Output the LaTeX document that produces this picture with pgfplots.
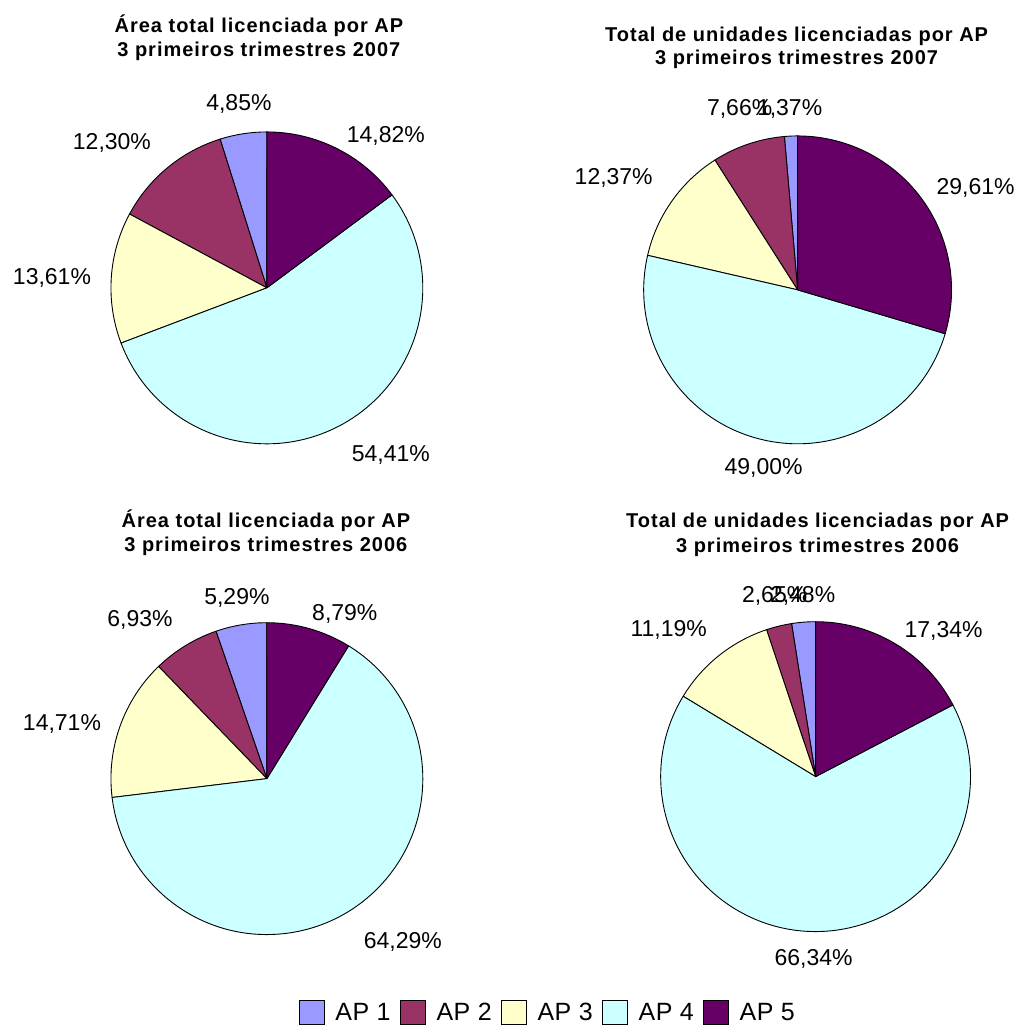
\documentclass[border=0pt]{standalone}
\usepackage{fontspec}
\setmainfont{Liberation Sans}
\newfontfamily\ttlfam{Liberation Sans}[LetterSpace=5]
\newfontfamily\legfam{Liberation Sans}[LetterSpace=2]
\usepackage{pgfplots}
\usepackage{pgfplotstable}
\pgfplotsset{compat=1.18}

\definecolor{ap1}{HTML}{9999FF}
\definecolor{ap2}{HTML}{993366}
\definecolor{ap3}{HTML}{FFFFCC}
\definecolor{ap4}{HTML}{CCFFFF}
\definecolor{ap5}{HTML}{660066}

\newcommand\lblfont{\fontsize{23}{27}\selectfont}
\newcommand\legfont{\legfam\fontsize{25}{27}\selectfont}
\newcommand\ttlfont{\ttlfam\bfseries\fontsize{20}{24}\selectfont}

% value (%), label centre x, label centre y (picture pixels, y downwards)
\pgfplotstableread{
v lx ly
4.85 239 103
12.30 112 142
13.61 52 277
54.41 391 454
14.82 386 135
}\pieA
\pgfplotstableread{
v lx ly
1.37 790 108
7.66 740 108
12.37 614 177
49.00 764 467
29.61 976 187
}\pieB
\pgfplotstableread{
v lx ly
5.29 237 597
6.93 140 619
14.71 62 723
64.29 403 941
8.79 345 613
}\pieC
\pgfplotstableread{
v lx ly
2.48 803 595
2.65 775 595
11.19 669 629
66.34 814 958
17.34 944 630
}\pieD

\pgfkeys{/pgf/number format/.cd,fixed,precision=2,fixed zerofill,use comma,assume math mode=true}

\newcommand\drawpie[4]{%
 \pgfplotsextra{%
  \pgfmathsetmacro\pcy{1027-#3}%
  \gdef\curang{90}%
  \foreach \i in {0,...,4}{%
    \pgfplotstablegetelem{\i}{v}\of{#1}\let\val\pgfplotsretval
    \pgfmathsetmacro\endang{\curang+3.6*\val}%
    \pgfmathtruncatemacro\k{\i+1}%
    \filldraw[fill=ap\k, draw=black, line width=0.9pt, line join=round]
      (axis cs:#2,\pcy) -- ++(\curang:#4pt) arc[start angle=\curang, end angle=\endang, radius=#4pt] -- cycle;
    \xdef\curang{\endang}%
    \pgfplotstablegetelem{\i}{lx}\of{#1}\let\lx\pgfplotsretval
    \pgfplotstablegetelem{\i}{ly}\of{#1}\let\ly\pgfplotsretval
    \pgfmathsetmacro\lyy{1027-\ly-8}%
    \node[anchor=base, font=\lblfont, inner sep=0pt] at (axis cs:\lx,\lyy) {\pgfmathprintnumber{\val}\%};
  }%
 }%
}

\begin{document}
\begin{tikzpicture}
\begin{axis}[
  x=1pt, y=1pt,
  xmin=0, xmax=1018, ymin=0, ymax=1027,
  hide axis, clip=false,
  legend columns=5,
  legend image code/.code={\draw[#1,draw=black,line width=0.9pt] (0pt,-12pt) rectangle (25pt,12pt);},
  legend style={draw=none, fill=none, at={(0.5373,0.0136)}, anchor=center,
    font=\legfont, nodes={inner sep=0pt},
    /tikz/every odd column/.append style={column sep=11pt},
    /tikz/every even column/.append style={column sep=9pt}},
]
\addlegendimage{fill=ap1}\addlegendentry{AP 1}
\addlegendimage{fill=ap2}\addlegendentry{AP 2}
\addlegendimage{fill=ap3}\addlegendentry{AP 3}
\addlegendimage{fill=ap4}\addlegendentry{AP 4}
\addlegendimage{fill=ap5}\addlegendentry{AP 5}

\drawpie{\pieA}{267}{288}{156}
\drawpie{\pieB}{798}{290}{154}
\drawpie{\pieC}{267}{779}{156}
\drawpie{\pieD}{816}{777}{155}

\pgfplotsextra{\path (axis cs:0,0) rectangle (axis cs:1018,1027);}

\node[anchor=base, font=\ttlfont, inner sep=0pt] at (axis cs:259,994) {Área total licenciada por AP};
\node[anchor=base, font=\ttlfont, inner sep=0pt] at (axis cs:259,970) {3 primeiros trimestres 2007};
\node[anchor=base, font=\ttlfont, inner sep=0pt] at (axis cs:797,985) {Total de unidades licenciadas por AP};
\node[anchor=base, font=\ttlfont, inner sep=0pt] at (axis cs:797,962) {3 primeiros trimestres 2007};
\node[anchor=base, font=\ttlfont, inner sep=0pt] at (axis cs:266,499) {Área total licenciada por AP};
\node[anchor=base, font=\ttlfont, inner sep=0pt] at (axis cs:266,475) {3 primeiros trimestres 2006};
\node[anchor=base, font=\ttlfont, inner sep=0pt] at (axis cs:818,499) {Total de unidades licenciadas por AP};
\node[anchor=base, font=\ttlfont, inner sep=0pt] at (axis cs:818,474) {3 primeiros trimestres 2006};
\end{axis}
\end{tikzpicture}
\end{document}
